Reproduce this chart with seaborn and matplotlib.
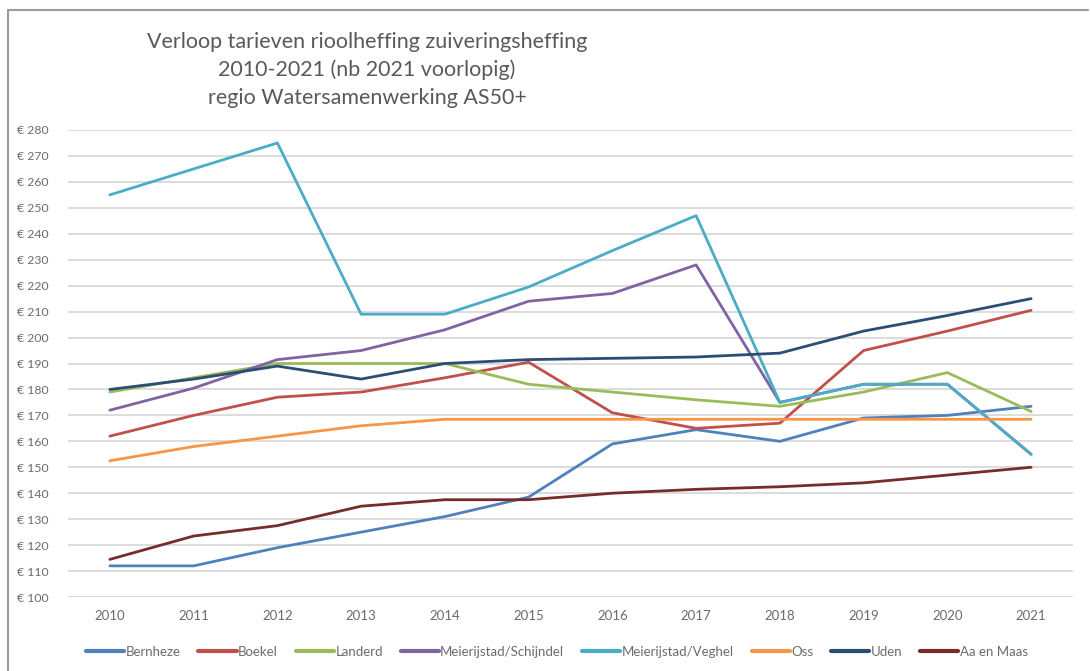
import matplotlib
matplotlib.use("Agg")
import matplotlib.pyplot as plt
import seaborn as sns
import pandas as pd
from matplotlib.lines import Line2D

# Yearly sewer + treatment levy per municipality (EUR)
years = list(range(2010, 2022))
bernheze = [112, 112, 119, 125, 131, 138.5, 159, 164.5, 160, 169, 170, 173.5]
boekel = [162, 170, 177, 179, 184.5, 190.5, 171, 165, 167, 195, 202.5, 210.5]
landerd = [179, 184.5, 190, 190, 190, 182, 179, 176, 173.5, 179, 186.5, 171.5]
schijndel = [172, 180.5, 191.5, 195, 203, 214, 217, 228, 175, 182, 182, 155]
veghel = [255, 265, 275, 209, 209, 219.5, 233.5, 247, 175, 182, 182, 155]
oss = [152.5, 158, 162, 166, 168.5, 168.5, 168.5, 168.5, 168.5, 168.5, 168.5, 168.5]
uden = [180, 184, 189, 184, 190, 191.5, 192, 192.5, 194, 202.5, 208.5, 215]
aa_en_maas = [114.5, 123.5, 127.5, 135, 137.5, 137.5, 140, 141.5, 142.5, 144, 147, 150]

series_names = ["Bernheze", "Boekel", "Landerd", "Meierijstad/Schijndel",
                "Meierijstad/Veghel", "Oss", "Uden", "Aa en Maas"]
series_values = [bernheze, boekel, landerd, schijndel, veghel, oss, uden, aa_en_maas]
colors = ["#4F81BD", "#C0504D", "#9BBB59", "#8064A2",
          "#4BACC6", "#F79646", "#2C4D75", "#772C2A"]

title_lines = ["Verloop tarieven rioolheffing zuiveringsheffing",
               "2010-2021 (nb 2021 voorlopig)",
               "regio Watersamenwerking AS50+"]

df = pd.DataFrame(
    [(y, name, v) for name, vals in zip(series_names, series_values)
     for y, v in zip(years, vals)],
    columns=["jaar", "gemeente", "tarief"],
)

sns.set_theme(style="white")
plt.rcParams["font.family"] = ["Lato", "DejaVu Sans"]
text_grey = "#6b6b6b"

fig = plt.figure(figsize=(10.9, 6.71), dpi=100)
ax = fig.add_axes([68 / 1090, 1 - 597 / 671, (1073 - 68) / 1090, (597 - 130) / 671])

sns.lineplot(data=df, x="jaar", y="tarief", hue="gemeente",
             hue_order=series_names, palette=colors, linewidth=2.0,
             legend=False, ax=ax, zorder=3)

ax.set_xlim(2009.5, 2021.5)
ax.set_ylim(100, 280)
ax.set_xticks(years)
ax.set_xticklabels([str(y) for y in years])
yt = list(range(100, 281, 10))
ax.set_yticks(yt)
ax.set_yticklabels([f"€ {v}" for v in yt])
ax.grid(axis="y", color="#d9d9d9", linewidth=1.3, zorder=0)
ax.grid(axis="x", visible=False)
for s in ax.spines.values():
    s.set_visible(False)
ax.tick_params(axis="both", length=0, colors=text_grey)
ax.tick_params(axis="x", pad=9, labelsize=9.5)
ax.tick_params(axis="y", pad=14, labelsize=8.8)
ax.set_xlabel("")
ax.set_ylabel("")

# Three-line title, left of centre
for i, line in enumerate(title_lines):
    fig.text(367 / 1090, 1 - (42 + 28 * i) / 671, line, ha="center", va="center",
             fontsize=15.5, color="#595959")

# Legend along the bottom
handles = [Line2D([0], [0], color=c, linewidth=3) for c in colors]
leg = fig.legend(handles, series_names, loc="center", ncol=8,
                 bbox_to_anchor=(557 / 1090, 1 - 652 / 671), frameon=False,
                 fontsize=9.5, handlelength=2.9, handletextpad=0.1,
                 columnspacing=1.35, labelcolor=text_grey)

# Chart-area border
fig.add_artist(Line2D([8 / 1090, 1088 / 1090], [1 - 10 / 671, 1 - 10 / 671],
                      transform=fig.transFigure, color="#9a9a9a", linewidth=1.5))
fig.add_artist(Line2D([8 / 1090, 8 / 1090], [0, 1 - 10 / 671],
                      transform=fig.transFigure, color="#9a9a9a", linewidth=1.5))

fig.savefig("out.png", dpi=100, facecolor="white")
